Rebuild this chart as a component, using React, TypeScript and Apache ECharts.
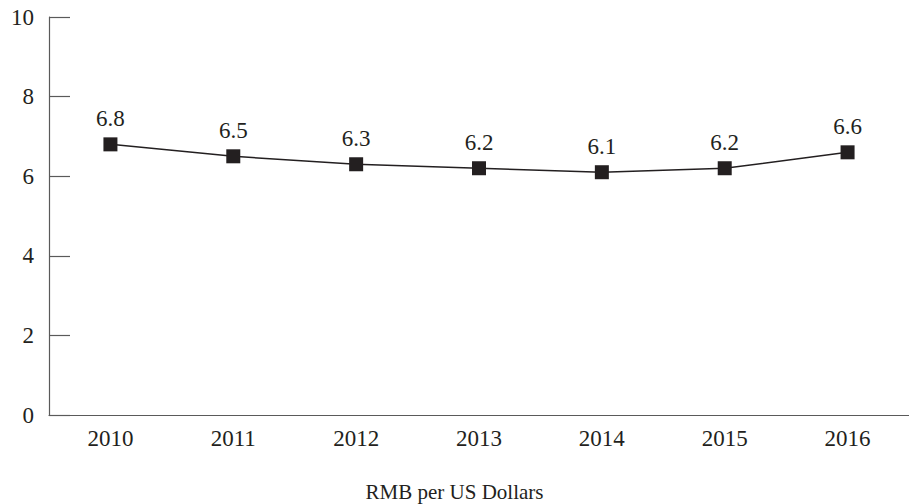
import React, { useEffect, useRef } from "react";
import * as echarts from "echarts";

const years = ["2010", "2011", "2012", "2013", "2014", "2015", "2016"];
const rates = [6.8, 6.5, 6.3, 6.2, 6.1, 6.2, 6.6];
const chartTitle = "RMB per US Dollars";

const FONT = "Liberation Serif";
const TEXT = "#231f20";
const AXIS = "#5a5a5a";

export default function App() {
  const ref = useRef<HTMLDivElement>(null);
  useEffect(() => {
    if (!ref.current) return;
    const chart = echarts.init(ref.current, undefined, { renderer: "svg" });
    chart.setOption({
      animation: false,
      backgroundColor: "#ffffff",
      textStyle: { fontFamily: FONT, color: TEXT },
      title: {
        text: chartTitle,
        left: "center",
        top: 476,
        textStyle: { fontFamily: FONT, fontSize: 21, fontWeight: "normal", color: TEXT },
      },
      grid: { left: 49, top: 17, height: 398, width: 871 },
      xAxis: {
        type: "category",
        data: years,
        boundaryGap: true,
        axisLine: { lineStyle: { color: AXIS, width: 1.2 } },
        axisTick: { inside: true, length: 9, lineStyle: { color: AXIS, width: 1.2 } },
        axisLabel: { fontFamily: FONT, fontSize: 23, color: TEXT, margin: 12 },
        splitLine: { show: false },
      },
      yAxis: {
        type: "value",
        min: 0,
        max: 10,
        interval: 2,
        axisLine: { show: true, lineStyle: { color: AXIS, width: 1.2 } },
        axisTick: { show: true, inside: true, length: 21, lineStyle: { color: AXIS, width: 1.2 } },
        axisLabel: { fontFamily: FONT, fontSize: 23, color: TEXT, margin: 15 },
        splitLine: { show: false },
      },
      series: [
        {
          type: "line",
          data: rates,
          symbol: "rect",
          symbolSize: 14,
          lineStyle: { color: TEXT, width: 1.5 },
          itemStyle: { color: TEXT },
          label: {
            show: true,
            position: "top",
            distance: 7,
            fontFamily: FONT,
            fontSize: 23,
            color: TEXT,
            formatter: (p: any) => Number(p.value).toFixed(1),
          },
        },
      ],
    });
    return () => chart.dispose();
  }, []);
  return (
    <div
      ref={ref}
      style={{ position: "absolute", left: 0, top: 0, width: 909, height: 504 }}
    />
  );
}
